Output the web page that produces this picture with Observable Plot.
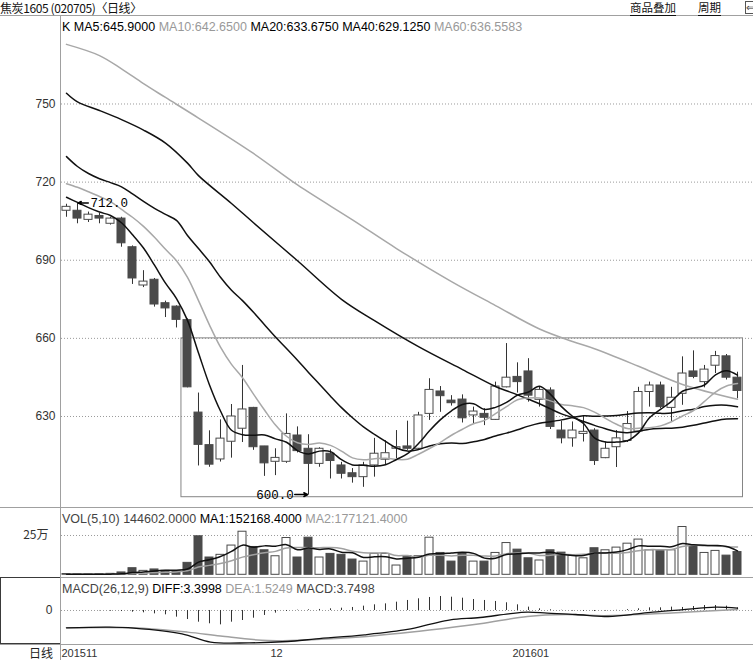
<!DOCTYPE html>
<html><head><meta charset="utf-8">
<script src="https://cdn.jsdelivr.net/npm/d3@7"></script>
<script src="https://cdn.jsdelivr.net/npm/@observablehq/plot@0.6"></script>
<style>
html,body{margin:0;padding:0;background:#fff;}
#wrap{position:relative;width:753px;height:660px;overflow:hidden;background:#fff;font-family:"Liberation Sans",Arial,sans-serif;color:#000;}
.a{position:absolute;white-space:nowrap;}
.hl{position:absolute;height:1px;background:#a0a0a0;}
.cjk{font-family:"Noto Sans CJK SC","Noto Sans",sans-serif;}
.plot{position:absolute;left:0;}
</style></head>
<body><div id="wrap"></div>
<script>
// ---------- data ----------
const opens  = [709,709,705.5,707,704,706,695,680.3,682.5,673.5, 672.2,667,631.5,619,613.5,620.3,625.3,633.3,618.5,612.6, 612.6,622.7,617.6,611.8,615.7,611.2,608.2,606.7,611.2,613.4, 617.6,618.5,617.6,631,639.6,636.1,636.5,630.4,631,628.7, 641.2,645.2,647.3,636.4,640,624.6,621.6,623.3,624.6,614, 618.2,620.6,624.2,639.4,641.9,633.3,638.7,647.3,643.2,649.5, 653.1,644.9];
const closes = [710.5,706,707.5,706,706,696.5,683,681.8,673,671.5, 667.1,641.2,619.1,611.5,621.5,630,632.7,618.2,612,614.1, 623.3,616.7,611.8,617.6,612.9,608,606.7,611.2,615.7,615.9, 618.2,617.6,630.4,640.2,637.8,635.1,629.3,631.9,629.5,641.5, 644.9,643.2,638,640.2,626,621.6,624.6,624.1,612.9,617.6, 621.6,627.1,639.4,641.9,633.6,637.2,646.5,645.2,648,653.2, 644.9,639.8];
const highs  = [711.5,712,708.5,708,706.5,706.5,695.5,686,683,674.3, 672.5,667.5,639,624.5,628.7,634.6,649.6,633.5,618.5,617.6, 631,626,623,618,617.2,612.4,610,612.4,621.6,620.7, 624.6,628.2,631.6,644.5,641.5,638,638.3,633.6,633,643.2, 658,650.6,652.2,641.5,641,628.2,627.9,630,625.3,620.2, 624.6,631.9,641.2,643.2,643.2,641.2,652.9,655.2,649.6,655, 653.8,647];
const lows   = [706.5,704,704.5,704,703.5,695,680.7,679.5,672,668, 664,641,611,610.5,612.5,614,620,617,607,607.3, 612,616,600,610.5,606,606,604.4,602.8,606.7,611.2, 613.8,617,617,628.5,631.6,634,627.5,627,626.5,628.5, 641,639,635.5,633.6,625,619.5,618.2,620.2,611.2,613.8, 610.4,620,623.5,633.6,633,627.9,634.3,644.5,641,646.5, 644,636.8];
const volumes = [5000,3000,3000,4000,6000,15000,42000,25000,34000,25000, 22000,76000,245000,110000,127000,186000,274000,177000,156000,118000, 234000,110000,236000,110000,133000,127000,97000,84000,133000,133000, 59000,118000,118000,236000,139000,84000,139000,84000,84000,139000, 202000,160000,105000,91000,156000,141000,120000,105000,169000,156000, 173000,198000,224000,156000,156000,156000,304000,181000,139000,152000, 122000,144602];

const ma5  = [714.2,712.2,710.2,708.5,707.2,704.4,699.8,694.7,688.1,681.2, 675.3,666.9,654.4,642.1,632.1,624.7,623.0,622.8,622.9,621.4, 620.1,616.9,615.6,616.7,616.5,613.4,611.4,611.3,610.9,611.5, 613.5,615.7,619.6,624.5,628.8,632.2,634.6,634.9,632.7,633.5, 635.4,638.2,639.4,641.6,638.5,633.8,630.1,627.3,621.8,620.2, 620.2,620.7,623.7,629.5,632.7,635.8,639.7,640.9,642.1,646.0, 647.6,645.9];
const ma10 = [719.4,718.0,716.3,714.5,712.5,709.5,706.5,703.0,698.8,694.2, 689.8,683.4,674.5,665.1,656.6,650.0,644.9,638.6,632.5,626.7, 622.4,619.9,619.2,619.8,618.9,616.7,614.1,613.4,613.8,614.0, 613.5,613.6,615.5,617.7,620.1,622.8,625.1,627.2,628.5,631.1, 633.8,636.4,637.1,637.1,636.0,634.6,634.1,633.4,631.7,629.3, 627.0,625.4,625.5,625.7,626.4,628.0,630.2,632.3,635.8,639.4, 641.7,642.65];
const ma20 = [729.8,726.0,723.3,721.3,719.8,718.2,715.5,712.6,709.9,707.6, 705.3,699.5,694.5,689.4,683.5,678.5,674.5,670.0,665.2,660.5, 656.1,651.6,646.9,642.4,637.8,633.4,629.5,626.0,623.1,620.4, 617.9,616.7,617.3,618.7,619.5,619.8,619.6,620.3,621.2,622.5, 623.6,624.9,626.3,627.4,628.0,628.7,629.6,630.3,630.1,630.2, 630.4,630.9,631.3,631.4,631.2,631.3,632.2,632.8,633.8,634.3, 634.3,633.7];
const ma40 = [[0,754.1],[1,750.8],[3,747.5],[5,744.0],[7,740.0],[9,735.0],[11,727.3],[12,722.5],[15,711.8],[17,704.4],[21,689.8],[25,675.0],[28,666.8],[32,656.8],[36,648.0],[39,641.5],[40,639.9],[41,638.3],[42,636.6],[43,634.9],[44,632.9],[45,631.0],[46,629.6],[47,628.1],[48,626.6],[49,625.3],[50,624.1],[51,623.8],[52,624.3],[53,625.1],[54,625.4],[55,625.5],[56,625.9],[57,626.6],[58,627.5],[59,628.4],[60,629.0],[61,629.1]];
const ma60 = [[0,772.9],[3,768.6],[5,763.5],[7,757.8],[9,752.5],[12,744.6],[17,731.0],[21,718.9],[26,705.5],[30,694.5],[35,681.8],[39,672.6],[43,663.6],[46,658.8],[48,656.0],[52,649.3],[56,642.3],[61,636.6]];

const volMa1 = [4000,4000,4000,4000,4200,6200,14000,18400,24400,28200, 29600,36400,80400,95600,116000,148800,188400,174800,184000,182200, 191800,159000,170800,161600,164600,143200,140600,110200,114800,114800, 101200,105400,112200,132800,134000,139000,143200,136400,106000,106000, 129600,133800,138000,139400,142800,130600,122600,122600,138200,138200, 144600,160200,184000,181400,181400,178000,199200,190600,187200,186400, 179600,152168];
const volMa2 = [4000,4000,4000,4000,4200,5500,8500,10500,13500,16000, 17900,25200,49400,60000,72100,89200,112400,127600,139800,149100, 170300,173700,172800,172800,173400,167500,149800,140500,138200,139700, 122200,123000,111200,123800,124400,120100,124300,124300,119400,120000, 134300,138500,137200,122700,124400,130100,128200,130300,138800,140500, 137600,141400,153300,159800,159800,161300,179700,187300,184300,183900, 178800,177121];

const diffPts = [[0,-24.8],[3.9,-23.8],[6.1,-25.2],[10.5,-33.3],[13.1,-45.2],[16.6,-46.2],[20.1,-44.3],[22.7,-40.5],[27.1,-34.7],[31,-27.1],[33.2,-19],[34.9,-13.3],[37.6,-10],[40.2,-4.8],[41.9,-2.4],[43.7,-3.8],[46.3,-5.7],[48.9,-8.6],[51.1,-6.2],[53.3,-2.4],[55.9,1.0],[59,4.8],[61,3.4]];
const deaPts  = [[0,-24.8],[6,-24.8],[11,-30.9],[14,-36.5],[18.3,-43],[22.7,-41.5],[27,-37.5],[33,-28],[37.6,-19],[41.9,-8.5],[45.4,-5.7],[48.9,-7.4],[55,-3.5],[61,1.5]];
const macdHist = [0,0,0,-0.5,-1,-1.5,-2.4,-3.3,-4.8,-6.2, -9.5,-12.9,-16.7,-19,-20.5,-16.7,-14.3,-11,-7.1,-3.8, -1.4,0.5,1,1.5,2.4,3.3,4.3,6.2,8.1,9.5, 11.9,14.3,16.7,18.6,20,19,17.6,15.7,14.3,12.9, 11,8.1,4.8,2.4,1.0,0.3,-0.8,-1.2,-1.5,-0.8, 0.3,1.2,2.4,3.8,3.8,4.8,4.3,5.7,7.1,7.1, 6.2,3.75];

const priceTicks = [630, 660, 690, 720, 750];
const volTicks = [250000];
const volTickLabels = ["25万"];
const macdTicks = [0];
const dateTickIdx = [0, 19, 41];
const dateTickLabels = ["201511", "12", "201601"];
const noteIdx = [1, 22];
const noteVal = [712.0, 600.0];
const noteSide = ["right", "left"];
const boxIdx = [11, 61];
const boxPrice = [599, 660];

const titleText = "焦炭1605 (020705)〈日线〉";
const kLegend = [["K","#000"],["MA5:645.9000","#000"],["MA10:642.6500","#999"],["MA20:633.6750","#000"],["MA40:629.1250","#000"],["MA60:636.5583","#999"]];
const volLegend = [["VOL(5,10) 144602.0000","#444"],["MA1:152168.4000","#000"],["MA2:177121.4000","#999"]];
const macdLegend = [["MACD(26,12,9)","#444"],["DIFF:3.3998","#000"],["DEA:1.5249","#999"],["MACD:3.7498","#444"]];

// ---------- build ----------
const wrap = document.getElementById("wrap");
const N = opens.length;
const candles = d3.range(N).map(i => ({i, o: opens[i], c: closes[i], h: highs[i], l: lows[i], v: volumes[i], up: closes[i] >= opens[i], m: macdHist[i]}));
const notes = noteIdx.map((i, k) => ({i, v: noteVal[k], side: noteSide[k]}));
const box = [{x1: boxIdx[0], x2: boxIdx[1], y1: boxPrice[0], y2: boxPrice[1]}];

const XD = [-0.4545, 62.4545];
const dark = "#4a4a4a";
const hw = 0.364;
const baseStyle = {background: "none", fontFamily: "Liberation Sans, Arial, sans-serif", fontSize: "12px", color: "#333", overflow: "visible"};

function place(svg, top) {
  svg.classList.add("plot");
  svg.style.top = top + "px";
  wrap.appendChild(svg);
}

// main K-line panel
const main = Plot.plot({
  width: 753, height: 491, marginLeft: 61, marginRight: 0, marginTop: 0, marginBottom: 0,
  x: {domain: XD, axis: null, label: null},
  y: {domain: [595.05, 783.6], axis: null, label: null},
  style: baseStyle,
  marks: [
    Plot.ruleY(priceTicks, {stroke: "#9a9a9a", strokeDasharray: "1,2"}),
    Plot.axisY(priceTicks, {anchor: "left", tickSize: 0, tickPadding: 6, fontSize: 12, label: null}),
    Plot.rect(box, {x1: d => d.x1 - 0.55, x2: d => d.x2 + 0.5, y1: "y1", y2: "y2", fill: "none", stroke: "#858585"}),
    Plot.ruleX(candles, {x: "i", y1: "l", y2: "h", stroke: "#333"}),
    Plot.rect(candles, {x1: d => d.i - hw, x2: d => d.i + hw, y1: "o", y2: "c", fill: d => d.up ? "#fff" : dark, stroke: dark}),
    Plot.line(ma60, {x: d => d[0], y: d => d[1], stroke: "#a8a8a8", curve: "catmull-rom"}),
    Plot.line(ma40, {x: d => d[0], y: d => d[1], stroke: "#111", curve: "catmull-rom"}),
    Plot.line(ma20, {x: (d, i) => i, y: d => d, stroke: "#111", curve: "catmull-rom"}),
    Plot.line(ma10, {x: (d, i) => i, y: d => d, stroke: "#a8a8a8", curve: "catmull-rom"}),
    Plot.line(ma5, {x: (d, i) => i, y: d => d, stroke: "#111", curve: "catmull-rom"}),
    Plot.arrow(notes, {filter: d => d.side === "right", x1: d => d.i + 0.98, x2: d => d.i + 0.06, y1: "v", y2: "v", stroke: "#000", headLength: 5, headAngle: 50}),
    Plot.arrow(notes, {filter: d => d.side === "left", x1: d => d.i - 1.25, x2: d => d.i - 0.06, y1: "v", y2: "v", stroke: "#000", headLength: 5, headAngle: 50}),
    Plot.text(notes, {filter: d => d.side === "right", x: d => d.i + 1.0, y: "v", dx: 2, text: d => d.v.toFixed(1), textAnchor: "start", fontFamily: "Liberation Mono, monospace", fontSize: 12.5, fill: "#000"}),
    Plot.text(notes, {filter: d => d.side === "left", x: d => d.i - 1.25, y: "v", dx: -1, text: d => d.v.toFixed(1), textAnchor: "end", fontFamily: "Liberation Mono, monospace", fontSize: 12.5, fill: "#000"})
  ]
});
place(main, 16);

// volume panel
const vol = Plot.plot({
  width: 753, height: 71, marginLeft: 61, marginRight: 0, marginTop: 0, marginBottom: 0,
  x: {domain: XD, axis: null, label: null},
  y: {domain: [-23536, 428108], axis: null, label: null},
  style: baseStyle,
  marks: [
    Plot.ruleY(volTicks, {stroke: "#9a9a9a", strokeDasharray: "1,2"}),
    Plot.axisY(volTicks, {anchor: "left", tickSize: 0, tickPadding: 13, fontSize: 12, label: null, fontFamily: "Noto Sans CJK SC, sans-serif", tickFormat: (d) => volTickLabels[volTicks.indexOf(d)]}),
    Plot.rect(candles, {x1: d => d.i - hw, x2: d => d.i + hw, y1: 0, y2: "v", fill: d => d.up ? "#fff" : dark, stroke: dark}),
    Plot.line(volMa2, {x: (d, i) => i, y: d => d, stroke: "#a0a0a0", curve: "catmull-rom"}),
    Plot.line(volMa1, {x: (d, i) => i, y: d => d, stroke: "#111", curve: "catmull-rom"})
  ]
});
place(vol, 507);

// MACD panel + date axis
const macd = Plot.plot({
  width: 753, height: 83, marginLeft: 61, marginRight: 0, marginTop: 0, marginBottom: 16,
  x: {domain: XD, axis: null, label: null},
  y: {domain: [-50, 45.7], axis: null, label: null},
  style: baseStyle,
  marks: [
    Plot.ruleY(macdTicks, {stroke: "#9a9a9a", strokeDasharray: "1,2"}),
    Plot.axisY(macdTicks, {anchor: "left", tickSize: 0, tickPadding: 9, fontSize: 12, label: null, tickFormat: d => String(d)}),
    Plot.ruleX(candles, {x: "i", y1: 0, y2: "m", stroke: "#333"}),
    Plot.line(deaPts, {x: d => d[0], y: d => d[1], stroke: "#a0a0a0", curve: "catmull-rom"}),
    Plot.line(diffPts, {x: d => d[0], y: d => d[1], stroke: "#111", strokeWidth: 1.3, curve: "catmull-rom"}),
    Plot.axisX(dateTickIdx, {anchor: "bottom", tickSize: 0, tickPadding: 4, fontSize: 11, label: null, textAnchor: "start", dx: -5, tickFormat: d => dateTickLabels[dateTickIdx.indexOf(d)]})
  ]
});
place(macd, 578);

// ---------- frame / text overlays ----------
function div(cls, css, html) {
  const e = document.createElement("div");
  e.className = cls; e.style.cssText = css; if (html != null) e.innerHTML = html;
  wrap.appendChild(e); return e;
}
div("hl", "left:0;top:15px;width:753px;");
div("hl", "left:0;top:507px;width:753px;");
div("hl", "left:0;top:577px;width:753px;");
div("hl", "left:0;top:644px;width:753px;");
div("a", "left:60px;top:15px;width:1px;height:645px;background:#a0a0a0;");
div("a", "left:0;top:577px;width:60px;height:67px;border:1px solid #3a3a3a;border-right:none;box-sizing:border-box;");

div("a cjk", "left:0;top:0;font-size:12px;line-height:15px;color:#111;letter-spacing:-0.4px;", titleText);
div("a cjk", "left:630px;top:1px;font-size:11.5px;line-height:13px;padding-bottom:1px;color:#111;border-bottom:1px solid #111;", "商品叠加");
div("a cjk", "left:698px;top:1px;font-size:11.5px;line-height:13px;padding-bottom:1px;color:#111;border-bottom:1px solid #111;", "周期");
div("a", "left:745px;top:1px;width:12px;height:11px;border:1px solid #555;font-size:10px;line-height:11px;color:#333;", "&#8656;");

const leg = (arr) => arr.map(([t, c]) => `<span style="color:${c}">${t}</span>`).join(" ");
div("a", "left:62px;top:19px;font-size:12.5px;line-height:16px;", leg(kLegend));
div("a", "left:62px;top:511px;font-size:12.5px;line-height:16px;", leg(volLegend));
div("a", "left:62px;top:581px;font-size:12.5px;line-height:16px;", leg(macdLegend));
div("a cjk", "left:29px;top:646px;font-size:12px;line-height:13px;color:#222;", "日线");
</script></body></html>
